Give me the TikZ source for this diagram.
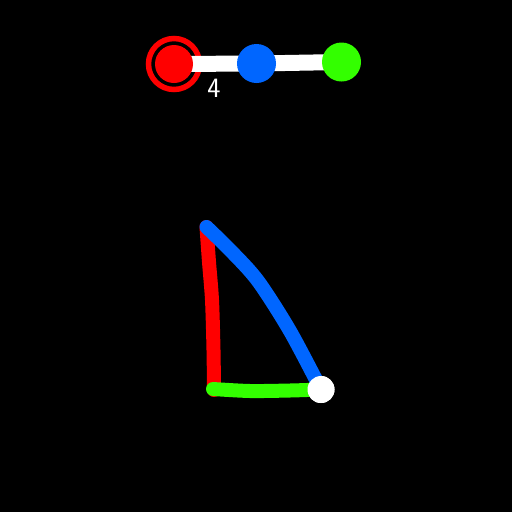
\documentclass[tikz,border=0pt]{standalone}
\usepackage{xcolor}
\usepackage{tikz}
\usetikzlibrary{calc}
\definecolor{dotred}{RGB}{255,0,0}
\definecolor{dotblue}{RGB}{0,102,255}
\definecolor{dotgreen}{RGB}{51,255,0}

\begin{document}
\begin{tikzpicture}[x=1pt,y=-1pt,
        dot/.style={circle,inner sep=0pt,minimum size=39pt},
        stroke/.style={line width=14pt,line cap=round,line join=round}]
        \fill[black] (0,0) rectangle (512,512);
        \useasboundingbox (0,0) rectangle (512,512);

        % top row
        \node[dot] (r) at (174,64) {};
        \node[dot] (b) at (256.5,63.5) {};
        \node[dot] (g) at (341.5,62) {};
        \draw[dotred,line width=5.5pt] (r.center) circle (25.5);
        \draw[white,line width=16pt] (r.center) -- (b.center) -- (g.center);
        \fill[dotred] (r.center) circle (19);
        \fill[dotblue] (b.center) circle (19.5);
        \fill[dotgreen] (g.center) circle (19.5);
        \node[white,font=\sffamily\fontsize{28}{28}\selectfont] (n) at (214,88) {4};

        % triangle
        \draw (206.5,227) coordinate (top);
        \draw (214,390) coordinate (low);
        \node[circle,fill=white,inner sep=0pt,minimum size=27pt] (w) at (321,389.5) {};
        \draw[stroke,dotred] plot[smooth] coordinates {(top) (209,262) (212,300) (213.5,350) (low)};
        \draw[stroke,dotgreen] plot[smooth] coordinates {(213,389) (250,391) (290,390.5) (w.center)};
        \draw[stroke,dotblue] plot[smooth] coordinates {(top) (231,251) (258,281) (290,331) (w.center)};
        \node[circle,fill=white,inner sep=0pt,minimum size=27pt] at (w.center) {};
    \end{tikzpicture}
\end{document}
